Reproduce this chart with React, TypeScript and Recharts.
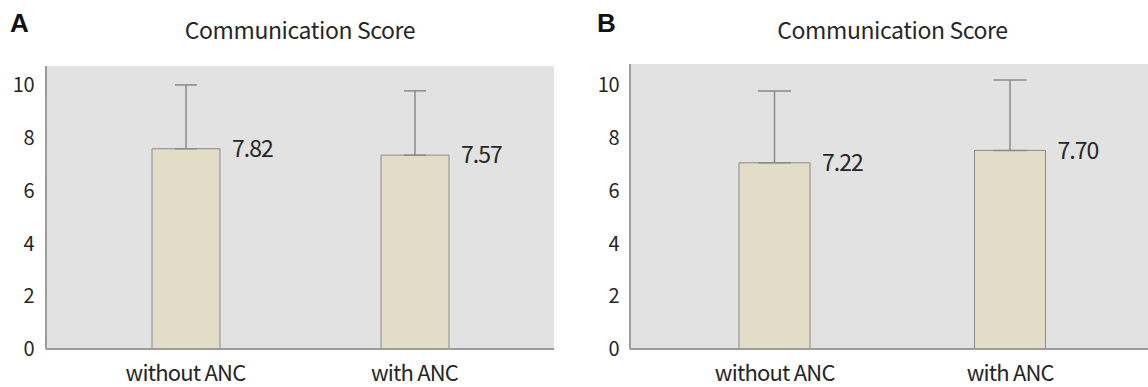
import React from 'react';
import { BarChart, Bar, XAxis, YAxis, ErrorBar, LabelList, CartesianGrid } from 'recharts';

// ---- data ----
const categories = ['without ANC', 'with ANC'];
const panelLetters = ['A', 'B'];
const panelTitles = ['Communication Score', 'Communication Score'];
const meansA = [7.82, 7.57];
const sdA = [2.49, 2.51];
const meansB = [7.22, 7.7];
const sdB = [2.78, 2.73];
const yTicks = [0, 2, 4, 6, 8, 10];

const FONT = '"Noto Sans CJK KR", "Noto Sans", sans-serif';
const TEXT = '#262626';
const FRAME = '#9c9c9c';
const BG = '#e2e2e2';
const BAR_FILL = '#e3dcc6';
const BAR_STROKE = '#8a8a8a';

const build = (means: number[], sds: number[]) =>
  categories.map((c, i) => ({
    name: c,
    mean: means[i],
    err: [0, sds[i]],
    label: means[i].toFixed(2),
  }));

const ValueLabel = (props: any) => {
  const { x, y, width, value } = props;
  return (
    <text
      x={Number(x) + Number(width) + 12}
      y={Number(y)}
      dy="0.36em"
      textAnchor="start"
      fontFamily={FONT}
      fontSize={23}
      letterSpacing={-1}
      fill={TEXT}
    >
      {value}
    </text>
  );
};

type PanelProps = {
  data: any[];
  width: number;
  height: number;
  margin: { top: number; right: number; left: number; bottom: number };
  yWidth: number;
  pad: number;
  barSize: number;
  capHalf: number;
  tickDomainMax: number;
  dataDomainMax: number;
  tickMargin: number;
};

const Panel = (p: PanelProps) => (
  <BarChart width={p.width} height={p.height} data={p.data} margin={p.margin}>
    <CartesianGrid fill={BG} horizontal={false} vertical={false} />
    <XAxis
      dataKey="name"
      height={38}
      padding={{ left: p.pad, right: p.pad }}
      axisLine={{ stroke: FRAME, strokeWidth: 2 }}
      tickLine={false}
      tickMargin={10}
      tick={{ fontFamily: FONT, fontSize: 22, fill: TEXT, letterSpacing: -0.8 }}
      interval={0}
    />
    <XAxis
      xAxisId="top"
      dataKey="name"
      orientation="top"
      height={0}
      tick={false}
      tickLine={false}
      axisLine={{ stroke: FRAME, strokeWidth: 2 }}
    />
    <YAxis
      width={p.yWidth}
      domain={[0, p.tickDomainMax]}
      allowDataOverflow
      ticks={yTicks}
      interval={0}
      axisLine={{ stroke: FRAME, strokeWidth: 2 }}
      tickLine={false}
      tickMargin={p.tickMargin}
      tick={{ fontFamily: FONT, fontSize: 20, fill: TEXT, letterSpacing: -0.5 }}
    />
    <YAxis yAxisId="data" hide domain={[0, p.dataDomainMax]} allowDataOverflow />
    <YAxis
      yAxisId="frame"
      orientation="right"
      width={0}
      domain={[0, 1]}
      allowDataOverflow
      tick={false}
      tickLine={false}
      axisLine={{ stroke: FRAME, strokeWidth: 2 }}
    />
    <Bar
      dataKey="mean"
      yAxisId="data"
      barSize={p.barSize}
      fill={BAR_FILL}
      stroke={BAR_STROKE}
      strokeWidth={1}
      isAnimationActive={false}
    >
      <ErrorBar
        dataKey="err"
        direction="y"
        width={p.capHalf}
        stroke={BAR_STROKE}
        strokeWidth={1.5}
        isAnimationActive={false}
      />
      <LabelList dataKey="label" content={ValueLabel} />
    </Bar>
  </BarChart>
);

const Title = ({ text, left, width }: { text: string; left: number; width: number }) => (
  <div
    style={{
      position: 'absolute',
      left,
      top: 14,
      width,
      textAlign: 'center',
      fontFamily: FONT,
      fontSize: 23,
      letterSpacing: -0.4,
      lineHeight: '30px',
      color: TEXT,
    }}
  >
    {text}
  </div>
);

const Letter = ({ text, left }: { text: string; left: number }) => (
  <div
    style={{
      position: 'absolute',
      left,
      top: 9,
      fontFamily: '"Liberation Sans", Arial, sans-serif',
      fontWeight: 700,
      fontSize: 26,
      lineHeight: '28px',
      color: '#111',
    }}
  >
    {text}
  </div>
);

export default function App() {
  const dataA = build(meansA, sdA);
  const dataB = build(meansB, sdB);
  return (
    <div
      style={{
        position: 'fixed',
        left: 0,
        top: 0,
        width: 1148,
        height: 387,
        overflow: 'hidden',
        background: '#fff',
      }}
    >
      <div style={{ position: 'absolute', left: 0, top: 0 }}>
        <Panel
          data={dataA}
          width={580}
          height={387}
          margin={{ top: 66, right: 26, left: 0, bottom: 0 }}
          yWidth={46}
          pad={25}
          barSize={68}
          capHalf={11}
          tickDomainMax={10.72}
          dataDomainMax={11.05}
          tickMargin={6}
        />
      </div>
      <div style={{ position: 'absolute', left: 580, top: 0 }}>
        <Panel
          data={dataB}
          width={600}
          height={387}
          margin={{ top: 64, right: 25, left: 0, bottom: 0 }}
          yWidth={50}
          pad={27}
          barSize={71}
          capHalf={16.5}
          tickDomainMax={10.8}
          dataDomainMax={11.05}
          tickMargin={5}
        />
      </div>
      <Letter text={panelLetters[0]} left={10} />
      <Letter text={panelLetters[1]} left={597} />
      <Title text={panelTitles[0]} left={46} width={508} />
      <Title text={panelTitles[1]} left={630} width={525} />
    </div>
  );
}
